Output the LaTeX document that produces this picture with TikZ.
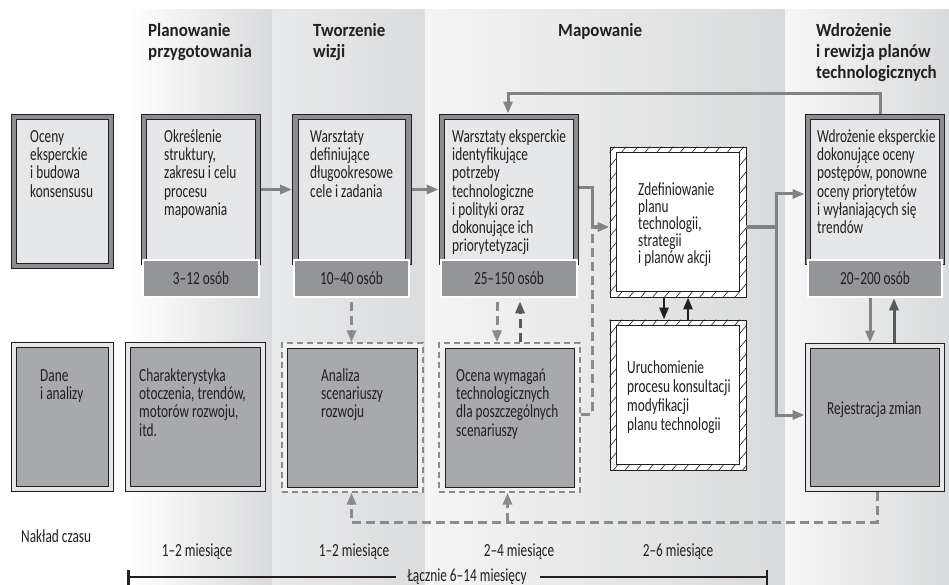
\documentclass[tikz,border=0pt]{standalone}
\usepackage{fontspec}
\usepackage{graphicx}
\setmainfont{Carlito}
\usetikzlibrary{arrows.meta,patterns.meta,calc}

\definecolor{ink}{HTML}{231F20}
\definecolor{framegray}{HTML}{8D8E91}
\definecolor{paleface}{HTML}{E6E7E8}
\definecolor{peoplegray}{HTML}{939598}
\definecolor{datagray}{HTML}{A7A9AC}
\definecolor{linkgray}{HTML}{808285}
\definecolor{linkdark}{HTML}{58595B}
\definecolor{dashgray}{HTML}{8A8B8D}
\definecolor{bandgray}{HTML}{D9DADB}

% strut fixing the height of the first text line
\newcommand\ts{\rule{0pt}{15pt}}
% condensed text blocks and labels
\newcommand\body[2][18.3]{\scalebox{0.72}[1]{\parbox[t]{230pt}{\raggedright
  \fontsize{18.5}{#1}\selectfont\ts #2}}}
\newcommand\head[1]{\scalebox{0.91}[1]{\parbox[t]{200pt}{\raggedright
  \bfseries\fontsize{18.6}{21}\selectfont\ts #1}}}
\newcommand\short[1]{\scalebox{0.72}[1]{\fontsize{18.5}{18.3}\selectfont #1}}

\tikzset{
  txt/.style={anchor=north west, inner sep=0pt, text=ink},
  lbl/.style={anchor=base, inner sep=0pt, text=ink},
  topbox/.style={draw=ink, line width=0.9pt, double=framegray,
    double distance=4.5pt, fill=paleface, inner sep=0pt},
  lowbox/.style={draw=ink, line width=0.9pt, double=paleface,
    double distance=3.5pt, fill=datagray, inner sep=0pt},
  innerbox/.style={draw=ink, line width=0.9pt, fill=datagray, inner sep=0pt},
  dframe/.style={draw=dashgray, line width=1.3pt, dash pattern=on 6pt off 4pt,
    fill=paleface!60!white, inner sep=0pt},
  crowd/.style={draw=white, line width=2.5pt, fill=peoplegray, inner sep=0pt,
    text=ink},
  hatchbox/.style={draw=ink, line width=0.9pt, fill=white, inner sep=0pt},
  hatch/.style={pattern={Lines[angle=50,distance=9pt,line width=0.6pt]},
    pattern color=ink, even odd rule},
  tip/.style={-{Triangle[length=12pt,width=9pt]}},
  conn/.style={draw=linkgray, line width=3pt, tip},
  connd/.style={draw=linkdark, line width=3pt, tip},
  connk/.style={draw=ink, line width=2.6pt, tip},
  dconn/.style={draw=dashgray, line width=3pt, dash pattern=on 9pt off 5pt},
  dconnd/.style={draw=linkdark, line width=3pt, dash pattern=on 9pt off 5pt},
  bar/.style={draw=ink, line width=2.5pt},
}

\begin{document}
\begin{tikzpicture}[x=1pt,y=-1pt]
\useasboundingbox (0,0) rectangle (949,585);

% phase bands
\shade[left color=white, right color=bandgray] (128,10) rectangle (272,585);
\shade[left color=paleface!90!white, right color=bandgray!95!white] (272,10) rectangle (425,585);
\shade[left color=paleface!45!white, right color=bandgray] (425,10) rectangle (785,585);
\shade[left color=paleface!35!white, right color=bandgray] (785,10) rectangle (949,585);

% phase headings
\node[txt] (h1) at (148,21) {\head{Planowanie\\przygotowania}};
\node[txt] (h2) at (313,21) {\head{Tworzenie\\wizji}};
\node[txt] (h3) at (558,21) {\head{Mapowanie}};
\node[txt] (h4) at (816,21) {\head{Wdrożenie\\i rewizja planów\\technologicznych}};

% upper row: expert work
\node[topbox, minimum width=97pt, minimum height=149pt] (A) at (62.5,191.5) {};
\node[topbox, minimum width=114pt, minimum height=145pt] (B) at (201,189.5) {};
\node[topbox, minimum width=113pt, minimum height=145pt] (C) at (352,189.5) {};
\node[topbox, minimum width=134pt, minimum height=145pt] (D) at (509,189.5) {};
\node[topbox, minimum width=134pt, minimum height=145pt] (G) at (875,189.5) {};

\node[txt] (At) at (30,127) {\body{Oceny\\eksperckie\\i budowa\\konsensusu}};
\node[txt] (Bt) at (164,127) {\body{Określenie\\struktury,\\zakresu i celu\\procesu\\mapowania}};
\node[txt] (Ct) at (310,127) {\body{Warsztaty\\definiujące\\długookresowe\\cele i zadania}};
\node[txt] (Dt) at (452,127) {\body{Warsztaty eksperckie\\identyfikujące\\potrzeby\\technologiczne\\i polityki oraz\\dokonujące ich\\priorytetyzacji}};
\node[txt] (Gt) at (817,127) {\body{Wdrożenie eksperckie\\dokonujące oceny\\postępów, ponowne\\oceny priorytetów\\i wyłaniających się\\trendów}};

% group sizes
\node[crowd, minimum width=116pt, minimum height=37pt] (Bp) at (201,278.5) {\short{3–12 osób}};
\node[crowd, minimum width=115pt, minimum height=37pt] (Cp) at (351.5,278.5) {\short{10–40 osób}};
\node[crowd, minimum width=136pt, minimum height=37pt] (Dp) at (509,278.5) {\short{25–150 osób}};
\node[crowd, minimum width=134pt, minimum height=37pt] (Gp) at (875,278.5) {\short{20–200 osób}};

% hatched boxes
\node[hatchbox, minimum width=136pt, minimum height=150pt] (E) at (678,222) {};
\path[hatch] (E.north west) rectangle (E.south east)
  ([shift={(7,6)}]E.north west) rectangle ([shift={(-7,-6)}]E.south east);
\draw[ink, line width=0.9pt] ([shift={(7,6)}]E.north west) rectangle ([shift={(-7,-6)}]E.south east);
\node[hatchbox, minimum width=136pt, minimum height=150pt] (F) at (678,395) {};
\path[hatch] (F.north west) rectangle (F.south east)
  ([shift={(7,6)}]F.north west) rectangle ([shift={(-7,-6)}]F.south east);
\draw[ink, line width=0.9pt] ([shift={(7,6)}]F.north west) rectangle ([shift={(-7,-6)}]F.south east);

\node[txt] (Et) at (638,180) {\body[17]{Zdefiniowanie\\planu\\technologii,\\strategii\\i planów akcji}};
\node[txt] (Ft) at (627,358) {\body[19]{Uruchomienie\\procesu konsultacji\\modyfikacji\\planu technologii}};

% lower row: data and analyses
\node[lowbox, minimum width=97pt, minimum height=144pt] (H) at (62.5,417) {};
\node[lowbox, minimum width=135pt, minimum height=144pt] (I) at (195.5,417) {};
\node[lowbox, minimum width=134pt, minimum height=143pt] (L) at (875,417.5) {};
\node[dframe, minimum width=141pt, minimum height=149pt] (Jf) at (352.5,417.5) {};
\node[innerbox, minimum width=130pt, minimum height=139pt] (J) at (352,417.5) {};
\node[dframe, minimum width=141pt, minimum height=149pt] (Kf) at (509.5,417.5) {};
\node[innerbox, minimum width=129pt, minimum height=139pt] (K) at (509.5,417.5) {};

\node[txt] (Ht) at (40,366) {\body{Dane\\i analizy}};
\node[txt] (It) at (139,366) {\body{Charakterystyka\\otoczenia, trendów,\\motorów rozwoju,\\itd.}};
\node[txt] (Jt) at (321,366) {\body{Analiza\\scenariuszy\\rozwoju}};
\node[txt] (Kt) at (456,366) {\body{Ocena wymagań\\technologicznych\\dla poszczególnych\\scenariuszy}};
\node[txt] (Lt) at (827,399) {\body{Rejestracja zmian}};

% junction points
\coordinate (jx) at (592,227);
\coordinate (jy) at (776,227);
\coordinate (yb) at (0,522);

% solid flow
\draw[conn, shorten <=3pt, shorten >=3pt] (B) -- (C);
\draw[conn, shorten <=3pt, shorten >=3pt] (C) -- (D);
\draw[conn, shorten <=3pt] ([yshift=1.5pt]D.east) -| (jx) -- ([yshift=-5pt]E.west);
\draw[conn] ([yshift=-5pt]E.east) -- (jy) |- ([yshift=-4.5pt,xshift=-3pt]G.west);
\draw[conn] (jy) |- ([yshift=2.5pt,xshift=-3pt]L.west);
\draw[conn, shorten <=3pt, shorten >=3pt] ([xshift=5pt]G.north) -- ++(0,-23) -| ([xshift=-1pt]D.north);

% exchange between plan and consultation
\draw[connk] ([xshift=-14pt]E.south) -- ([xshift=-14pt]F.north);
\draw[connk] ([xshift=10pt]F.north) -- ([xshift=10pt]E.south);

% exchange between revision and change log
\draw[conn, shorten >=3pt] ([xshift=-5pt]Gp.south) -- ([xshift=-5pt]Gp.south |- L.north);
\draw[connd, shorten <=3pt] ([xshift=19pt]L.north) -- ([xshift=19pt]L.north |- Gp.south);

% dashed links
\draw[dconn, tip, shorten <=4pt] (Cp.south) -- (Cp.south |- Jf.north);
\draw[dconn, tip, shorten <=4pt] ([xshift=-12pt]Dp.south) -- ([xshift=-12pt]Dp.south |- Kf.north);
\draw[dconnd, tip, shorten >=3pt] ([xshift=11pt]Dp.south |- Kf.north) -- ([xshift=11pt]Dp.south);
\draw[dconn] ([yshift=3.5pt]Kf.east) -| (jx);
\draw[dconn, tip, shorten <=3pt] ([xshift=2pt]L.south) -- ++(0,33) -| ([xshift=-1pt]Jf.south);
\draw[dconn, tip] ([xshift=-2pt]Kf.south |- yb) -- ([xshift=-2pt]Kf.south);

% time scale
\node[lbl, anchor=base west] (nc) at (21,542) {\short{Nakład czasu}};
\node[lbl] (m1) at (197,556) {\short{1–2 miesiące}};
\node[lbl] (m2) at (354,556) {\short{1–2 miesiące}};
\node[lbl] (m3) at (519,556) {\short{2–4 miesiące}};
\node[lbl] (m4) at (678,556) {\short{2–6 miesiące}};

\coordinate (tl) at (127,577);
\coordinate (tr) at (768,577);
\node[lbl] (tot) at (467,581) {\short{Łącznie 6–14 miesięcy}};
\draw[bar, {Bar[width=15pt]}-] (tl) -- ([xshift=-11pt]tl -| tot.west);
\draw[bar, -{Bar[width=15pt]}] ([xshift=13pt]tr -| tot.east) -- (tr);
\end{tikzpicture}
\end{document}
